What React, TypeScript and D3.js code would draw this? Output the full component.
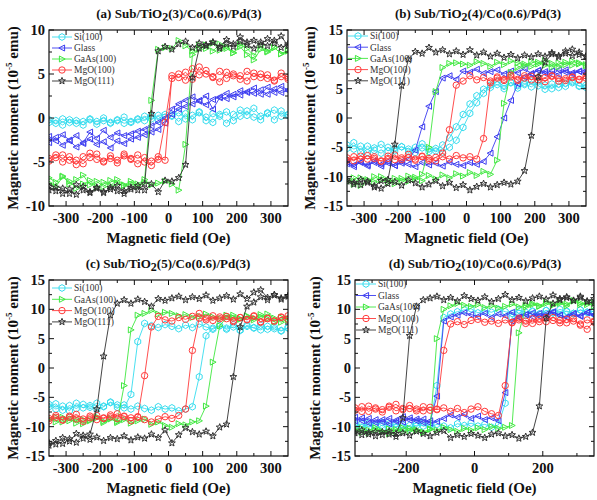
import React from 'react';
import * as d3 from 'd3';

// Applied field sweep (Oe), shared by every loop
const FIELD = [-350,-330,-310,-290,-270,-250,-230,-210,-190,-170,-150,-130,-110,-90,-70,-50,-30,-10,10,30,50,70,90,110,130,150,170,190,210,230,250,270,290,310,330,350];

// (a) TiO2(3): moment (1e-5 emu); "Asc" = field sweep up, "Desc" = field sweep down
const aSiAsc = [-0.5,-0.3,-0.8,-0.2,-0.6,-0.4,-0.1,-0.7,-0.3,-0.5,-0.2,-0.6,-0.4,-0.1,-0.3,0.2,-0.2,0.1,0.3,-0.4,0.5,-0.2,0.6,0.1,-0.5,0.4,0.7,-0.3,0.2,0.8,0.1,-0.2,0.6,0.9,0.2,0.4];
const aSiDesc = [-0.2,-0.6,-0.1,-0.5,-0.3,-0.8,-0.2,-0.4,0.0,-0.6,-0.3,0.1,-0.5,-0.2,0.2,-0.1,0.3,0.4,0.2,0.6,-0.1,0.3,0.7,-0.3,0.5,0.2,-0.6,0.4,0.9,0.3,1.1,0.2,0.5,-0.2,0.8,0.3];
const aGlassAsc = [-2.8,-2.2,-3.1,-2.6,-3.3,-2.9,-2.4,-3.0,-2.7,-3.4,-2.6,-2.9,-2.4,-2.2,-1.9,-1.6,-1.3,-0.6,0.4,1.0,1.3,1.6,1.9,1.5,2.1,2.4,2.2,2.7,2.6,3.0,2.8,3.2,2.7,3.3,2.9,3.1];
const aGlassDesc = [-2.1,-2.6,-1.9,-2.5,-2.0,-2.8,-1.6,-2.3,-1.4,-2.2,-1.7,-2.0,-1.8,-1.5,-1.3,-0.9,-0.5,0.0,1.0,1.6,2.0,2.4,2.0,2.5,1.0,2.3,2.8,2.4,3.1,2.9,3.4,2.7,3.5,2.9,3.6,3.2];
const aGaAsAsc = [-6.8,-7.3,-6.6,-7.5,-7.0,-6.5,-7.6,-7.2,-7.8,-7.1,-7.4,-7.7,-7.5,-7.8,-7.3,-7.6,-7.4,-7.2,-7.5,-8.2,-3.0,7.2,7.8,8.3,7.6,8.4,7.9,7.4,8.1,7.2,6.6,7.8,7.5,8.0,7.3,7.6];
const aGaAsDesc = [-7.4,-7.8,-6.7,-7.2,-8.0,-7.5,-7.1,-7.9,-7.3,-7.7,-7.0,-7.6,-7.2,-7.5,-7.0,2.0,7.8,8.0,7.9,8.8,8.2,7.6,8.3,7.9,8.5,7.7,8.1,7.4,8.4,7.9,7.1,8.2,7.6,8.0,7.3,7.7];
const aMgO100Asc = [-4.6,-4.2,-5.0,-4.4,-4.8,-5.2,-4.5,-4.1,-4.9,-4.6,-5.1,-4.3,-4.7,-5.2,-4.5,-4.9,-4.4,-4.8,4.8,4.6,5.2,4.4,5.8,5.0,4.7,5.3,4.5,5.0,4.8,4.2,5.1,4.6,4.9,4.3,4.7,4.4];
const aMgO100Desc = [-4.9,-4.5,-4.2,-4.8,-5.3,-4.4,-4.0,-4.7,-5.0,-4.3,-4.8,-4.1,-4.6,-4.2,-5.0,-5.4,-4.7,-0.5,4.5,5.0,4.3,5.6,4.9,5.4,4.6,4.1,5.2,4.8,4.4,5.3,4.7,5.0,4.5,4.2,5.1,4.6];
const aMgO111Asc = [-8.2,-7.9,-8.6,-8.1,-8.7,-7.8,-8.4,-8.0,-8.5,-7.9,-8.3,-8.6,-8.1,-7.7,-8.2,-7.5,-8.4,-7.1,-7.2,-6.8,-5.3,4.6,7.9,8.3,8.6,8.1,8.9,8.4,9.2,8.6,8.8,8.3,9.0,8.5,9.3,8.2];
const aMgO111Desc = [-7.8,-8.3,-8.0,-8.6,-7.6,-8.2,-8.5,-7.9,-8.4,-8.1,-7.7,-8.3,-7.9,-8.2,-7.5,0.5,7.6,8.1,7.8,8.4,8.7,8.0,8.5,8.2,8.6,7.9,8.4,8.1,8.7,8.3,7.9,8.6,8.2,8.8,8.0,8.4];

// (b) TiO2(4)
const bSiAsc = [-5.2,-4.2,-5.8,-4.8,-5.5,-6.0,-5.0,-5.6,-4.9,-5.3,-5.9,-5.1,-5.7,-5.2,-5.8,-5.0,-3.8,-1.6,0.8,2.6,4.2,5.2,5.7,5.0,6.1,5.5,5.9,5.3,6.2,5.6,5.0,5.8,5.4,6.0,5.5,5.2];
const bSiDesc = [-4.6,-5.3,-4.8,-5.9,-5.1,-4.5,-5.6,-5.2,-4.9,-5.7,-5.0,-4.4,-5.3,-5.6,-4.6,-3.4,-1.5,0.6,2.4,3.8,4.9,5.6,6.2,5.4,6.0,5.1,5.7,6.3,5.5,4.9,5.8,5.2,5.9,6.2,5.4,5.6];
const bGlassAsc = [-7.8,-8.3,-7.5,-8.0,-7.6,-8.2,-7.7,-8.1,-7.4,-7.9,-8.3,-7.6,-8.0,-7.7,-8.2,-7.5,-7.9,-8.1,-7.6,-7.9,-7.4,-6.0,-3.2,0.0,3.0,5.8,7.0,7.5,8.1,7.6,8.0,7.4,8.2,7.7,7.9,8.1];
const bGlassDesc = [-7.5,-8.0,-7.6,-8.2,-7.3,-7.9,-7.4,-8.1,-7.7,-7.0,-5.5,-1.5,2.0,4.5,6.8,7.2,6.6,8.0,7.8,8.3,7.6,7.9,8.2,7.5,8.0,7.7,8.4,7.6,8.1,7.9,7.4,8.2,7.8,7.5,8.0,7.6];
const bGaAsAsc = [-11.0,-10.2,-11.5,-10.5,-10.9,-10.0,-10.6,-11.2,-10.3,-10.8,-10.1,-10.7,-9.8,-10.4,-9.7,-10.2,-9.5,-9.9,-9.3,-9.8,-9.1,-9.6,-7.2,2.5,7.8,8.6,9.2,8.8,9.5,9.0,8.7,9.4,9.1,9.7,9.2,8.9];
const bGaAsDesc = [-10.5,-11.3,-10.2,-10.8,-10.0,-10.6,-11.0,-10.3,-10.7,-9.9,-10.4,-9.6,-5.0,4.5,8.6,9.3,9.4,9.2,9.0,9.6,9.3,8.8,9.5,9.1,9.7,9.4,8.9,9.6,9.2,9.8,9.3,8.7,9.5,9.0,9.4,9.1];
const bMgO100Asc = [-6.8,-7.3,-6.5,-7.0,-6.6,-7.4,-6.9,-6.3,-7.1,-6.7,-7.2,-6.5,-6.9,-7.3,-6.6,-7.0,-6.4,-6.8,-6.6,-7.0,-3.5,6.0,6.8,6.4,7.0,6.6,7.2,6.5,6.9,6.2,7.1,6.7,6.4,6.9,6.6,7.2];
const bMgO100Desc = [-7.2,-6.6,-7.0,-6.4,-6.9,-7.3,-6.5,-7.1,-6.8,-6.2,-7.0,-6.6,-7.2,-6.7,-6.0,-2.0,5.6,6.3,7.2,6.5,6.9,6.3,7.0,6.6,7.3,6.4,6.8,7.1,6.5,6.9,7.2,6.3,6.7,7.0,6.5,6.8];
const bMgO111Asc = [-10.5,-11.0,-11.4,-10.8,-11.8,-12.0,-11.2,-10.9,-11.5,-10.6,-11.1,-11.8,-11.3,-10.7,-11.6,-11.0,-11.9,-11.4,-12.3,-11.7,-11.2,-11.8,-11.4,-11.0,-11.3,-10.8,-9.0,-3.0,7.0,9.5,10.9,10.4,11.0,10.6,11.2,10.5];
const bMgO111Desc = [-10.8,-11.3,-10.5,-11.0,-11.6,-10.7,-10.5,-4.5,5.5,10.0,11.3,11.0,12.0,11.2,11.6,10.9,11.4,10.8,11.6,10.7,11.2,10.5,11.0,10.3,10.8,10.2,10.7,10.4,10.9,10.5,11.1,10.6,11.4,11.7,10.8,10.5];

// (c) TiO2(5)
const cSiAsc = [-6.2,-7.0,-6.5,-7.3,-6.0,-6.8,-6.4,-7.1,-6.6,-5.9,-6.7,-6.3,-7.0,-6.5,-6.9,-7.2,-6.6,-7.0,-6.8,-7.3,-7.0,-6.6,-1.5,5.5,6.8,7.2,6.6,7.0,6.4,7.3,6.8,6.5,7.1,6.7,6.3,6.9];
const cSiDesc = [-6.6,-6.1,-7.2,-6.4,-6.9,-6.2,-6.7,-6.0,-6.5,-5.8,-6.3,-6.8,-4.5,4.5,7.6,7.2,6.9,7.4,7.1,6.7,7.3,6.9,7.5,7.0,6.6,7.2,6.8,7.4,6.5,7.1,6.9,7.3,6.6,7.0,6.4,6.8];
const cGaAsAsc = [-8.6,-9.2,-8.4,-9.0,-8.7,-9.5,-8.9,-8.3,-9.1,-8.6,-9.3,-8.8,-9.4,-9.0,-8.7,-9.6,-9.2,-9.8,-10.1,-9.5,-9.7,-9.2,-9.0,-6.5,1.0,7.2,8.6,9.0,8.4,8.9,8.2,8.7,9.2,8.5,7.8,8.4];
const cGaAsDesc = [-8.9,-8.4,-9.2,-8.6,-9.4,-8.8,-9.0,-8.5,-9.3,-8.7,-9.1,-3.0,6.5,9.0,9.3,9.8,9.2,9.5,9.3,8.9,9.1,8.6,8.8,9.2,8.7,8.4,9.0,8.6,8.3,8.8,8.5,9.1,8.4,7.9,8.6,8.2];
const cMgO100Asc = [-8.6,-8.1,-8.9,-8.4,-7.9,-8.7,-8.2,-8.8,-8.5,-8.0,-8.6,-8.3,-9.0,-8.4,-8.8,-9.2,-8.7,-8.3,-8.6,-8.1,-7.0,3.0,8.5,8.2,8.9,8.4,8.8,8.1,8.6,8.3,8.9,7.9,8.5,8.0,8.7,8.3];
const cMgO100Desc = [-9.0,-8.4,-8.8,-8.2,-8.7,-9.1,-8.5,-8.1,-8.6,-8.3,-7.8,-8.2,-8.5,-8.3,-1.3,7.0,8.8,8.2,8.0,8.6,8.3,8.8,9.3,8.5,8.1,8.7,8.4,7.9,8.6,8.2,8.8,7.8,8.4,8.0,8.6,8.9];
const cMgO111Asc = [-13.2,-12.4,-12.9,-12.1,-12.7,-11.5,-12.2,-11.8,-12.4,-11.9,-12.1,-11.6,-12.3,-11.8,-12.0,-11.3,-11.9,-10.6,-12.8,-11.4,-10.2,-10.9,-11.3,-10.8,-11.6,-10.1,-9.6,-1.5,7.0,10.5,11.2,12.1,11.6,12.4,11.9,12.3];
const cMgO111Desc = [-12.8,-13.0,-11.9,-12.5,-11.2,-12.0,-11.3,-7.0,2.0,9.0,11.0,11.6,11.0,11.7,11.3,10.5,11.8,11.5,11.9,12.2,11.6,12.1,11.8,12.4,11.5,11.9,12.3,11.7,12.6,11.8,12.9,13.3,12.0,12.5,11.7,12.2];

// (d) TiO2(10)
const dSiAsc = [-9.6,-10.2,-9.4,-9.9,-10.3,-9.5,-10.0,-9.7,-10.4,-9.8,-9.3,-10.1,-9.6,-9.9,-10.2,-9.5,-9.8,-9.4,-9.9,-9.6,-10.1,-9.7,-6.0,8.6,9.3,9.0,9.6,9.2,9.8,9.4,9.1,9.7,9.3,9.9,9.5,9.2];
const dSiDesc = [-9.9,-9.5,-10.1,-9.7,-9.3,-10.0,-9.6,-10.2,-9.8,-9.4,-9.9,-9.7,-3.0,8.6,9.2,9.6,9.9,10.1,9.4,9.8,9.5,10.0,9.6,9.3,9.9,9.5,9.7,9.2,9.8,9.4,10.0,9.6,9.3,9.9,9.5,9.7];
const dGlassAsc = [-8.4,-9.0,-8.6,-9.3,-8.8,-9.5,-8.9,-9.2,-8.5,-9.0,-8.7,-9.4,-9.1,-8.6,-8.0,-8.4,-7.9,-8.6,-8.2,-8.8,-8.5,-9.0,-4.2,8.0,8.6,9.1,8.7,9.3,8.9,9.5,9.0,8.6,9.2,8.8,9.4,9.0];
const dGlassDesc = [-9.0,-8.5,-9.4,-8.8,-9.2,-8.6,-9.1,-8.3,-8.9,-8.7,-9.3,-9.0,-4.8,8.0,8.7,9.0,9.4,9.1,8.8,9.3,8.6,9.2,8.9,9.5,8.7,9.1,9.4,8.8,9.2,9.6,9.0,8.7,9.3,8.9,9.5,9.1];
const dGaAsAsc = [-10.4,-11.0,-10.6,-10.2,-10.8,-11.2,-10.5,-10.9,-10.3,-10.7,-11.0,-10.4,-10.6,-10.1,-10.5,-10.8,-10.3,-10.6,-10.2,-10.5,-10.0,-10.3,-10.1,-9.8,6.0,10.4,10.8,10.5,11.0,10.7,11.2,10.9,11.4,10.8,11.1,10.6];
const dGaAsDesc = [-10.9,-10.3,-11.1,-10.6,-10.9,-10.4,-10.8,-10.2,-10.7,-10.5,-10.9,-10.5,5.0,10.0,10.6,11.0,10.7,10.5,10.8,10.3,10.6,10.2,10.5,10.9,10.4,10.7,11.0,10.6,11.3,10.8,11.0,10.6,11.5,11.1,10.8,11.2];
const dMgO100Asc = [-7.2,-6.6,-7.4,-6.8,-7.1,-6.5,-7.3,-6.9,-6.4,-7.0,-7.3,-6.7,-7.1,-6.8,-7.4,-6.9,-7.6,-7.0,-6.6,-7.4,-7.8,-8.1,-3.0,7.8,8.2,7.6,8.4,7.9,8.6,8.1,7.7,8.3,8.0,7.5,8.2,7.8];
const dMgO100Desc = [-6.8,-7.4,-6.5,-7.0,-7.5,-6.7,-6.2,-7.1,-6.9,-7.3,-6.6,-7.2,-7.0,3.0,7.5,7.9,7.4,8.1,8.3,7.8,8.0,7.6,8.2,7.7,8.5,8.0,7.6,8.3,7.9,8.6,8.1,7.7,8.4,7.3,6.6,8.0];
const dMgO111Asc = [-10.8,-11.4,-11.0,-11.6,-10.9,-11.3,-11.7,-11.1,-11.5,-10.8,-11.2,-11.6,-11.0,-10.7,-11.9,-11.4,-11.7,-11.2,-11.5,-11.9,-11.3,-11.1,-11.6,-11.4,-12.0,-11.7,-11.0,-6.5,8.5,11.0,11.6,12.1,11.5,12.0,11.4,11.8];
const dMgO111Desc = [-11.1,-10.6,-11.3,-10.9,-11.4,-10.8,-11.2,-8.5,5.5,10.5,11.6,11.9,12.2,11.6,12.0,11.4,12.3,11.8,11.5,12.1,11.3,11.8,12.5,11.6,12.0,11.4,11.9,12.2,11.7,12.4,11.8,12.0,11.5,12.2,11.3,11.0];

// Axis ticks
const X_TICKS = [-300, -200, -100, 0, 100, 200, 300];
const X_MINOR = [-250, -150, -50, 50, 150, 250];
const X_TICKS_D = [-200, 0, 200];
const X_MINOR_D = [-300, -100, 100, 300];
const Y_TICKS_10 = [-10, -5, 0, 5, 10];
const Y_TICKS_15 = [-15, -10, -5, 0, 5, 10, 15];

type Shape = 'hex' | 'left' | 'right' | 'circle' | 'star';

const SUBSTRATES: Record<string, { label: string; color: string; shape: Shape }> = {
  si: { label: 'Si(100)', color: '#36dcee', shape: 'hex' },
  glass: { label: 'Glass', color: '#3c3cf0', shape: 'left' },
  gaas: { label: 'GaAs(100)', color: '#40e840', shape: 'right' },
  mgo100: { label: 'MgO(100)', color: '#ff3a3a', shape: 'circle' },
  mgo111: { label: 'MgO(111)', color: '#303030', shape: 'star' },
};

const FONT = "'Liberation Serif', 'Times New Roman', serif";

function polygon(pts: number[][]): string {
  return 'M' + pts.map((p) => `${p[0].toFixed(2)},${p[1].toFixed(2)}`).join('L') + 'Z';
}

function markerPath(shape: Shape): string {
  switch (shape) {
    case 'circle':
      return d3.symbol(d3.symbolCircle, Math.PI * 3.2 * 3.2)() as string;
    case 'hex':
      return polygon(d3.range(6).map((i) => {
        const a = Math.PI / 6 + (i * Math.PI) / 3;
        return [3.4 * Math.cos(a), 3.4 * Math.sin(a)];
      }));
    case 'left':
      return polygon([[-3.2, 0], [2.6, -3], [2.6, 3]]);
    case 'right':
      return polygon([[3.2, 0], [-2.6, -3], [-2.6, 3]]);
    case 'star':
      return polygon(d3.range(10).map((i) => {
        const a = -Math.PI / 2 + (i * Math.PI) / 5;
        const r = i % 2 === 0 ? 3.6 : 1.5;
        return [r * Math.cos(a), r * Math.sin(a)];
      }));
  }
}

interface PanelDef {
  key: string;
  tag: string;
  layer: string;
  yMax: number;
  yTicks: number[];
  xTicks: number[];
  xMinor: number[];
  left: number;
  right: number;
  top: number;
  bottom: number;
  titleX: number;
  yLabelX: number;
  legendX: number;
  legendY: number;
  legendStep: number;
  series: [string, number[], number[]][];
}

const PANELS: PanelDef[] = [
  {
    key: 'a', tag: '(a)', layer: '3', yMax: 10, yTicks: Y_TICKS_10, xTicks: X_TICKS, xMinor: X_MINOR,
    left: 49, right: 288, top: 30, bottom: 206, titleX: 179, yLabelX: 13, legendX: 52, legendY: 37, legendStep: 11,
    series: [
      ['si', aSiAsc, aSiDesc], ['glass', aGlassAsc, aGlassDesc], ['gaas', aGaAsAsc, aGaAsDesc],
      ['mgo100', aMgO100Asc, aMgO100Desc], ['mgo111', aMgO111Asc, aMgO111Desc],
    ],
  },
  {
    key: 'b', tag: '(b)', layer: '4', yMax: 15, yTicks: Y_TICKS_15, xTicks: X_TICKS, xMinor: X_MINOR,
    left: 347, right: 586, top: 30, bottom: 206, titleX: 478, yLabelX: 310, legendX: 348, legendY: 36, legendStep: 11.2,
    series: [
      ['si', bSiAsc, bSiDesc], ['glass', bGlassAsc, bGlassDesc], ['gaas', bGaAsAsc, bGaAsDesc],
      ['mgo100', bMgO100Asc, bMgO100Desc], ['mgo111', bMgO111Asc, bMgO111Desc],
    ],
  },
  {
    key: 'c', tag: '(c)', layer: '5', yMax: 15, yTicks: Y_TICKS_15, xTicks: X_TICKS, xMinor: X_MINOR,
    left: 49, right: 288, top: 280, bottom: 456, titleX: 168, yLabelX: 13, legendX: 52, legendY: 288, legendStep: 11.3,
    series: [
      ['si', cSiAsc, cSiDesc], ['gaas', cGaAsAsc, cGaAsDesc],
      ['mgo100', cMgO100Asc, cMgO100Desc], ['mgo111', cMgO111Asc, cMgO111Desc],
    ],
  },
  {
    key: 'd', tag: '(d)', layer: '10', yMax: 15, yTicks: Y_TICKS_15, xTicks: X_TICKS_D, xMinor: X_MINOR_D,
    left: 355, right: 594, top: 280, bottom: 456, titleX: 475, yLabelX: 315, legendX: 356, legendY: 284, legendStep: 11.5,
    series: [
      ['si', dSiAsc, dSiDesc], ['glass', dGlassAsc, dGlassDesc], ['gaas', dGaAsAsc, dGaAsDesc],
      ['mgo100', dMgO100Asc, dMgO100Desc], ['mgo111', dMgO111Asc, dMgO111Desc],
    ],
  },
];

function Panel({ p }: { p: PanelDef }) {
  const x = d3.scaleLinear().domain([-350, 350]).range([p.left, p.right]);
  const y = d3.scaleLinear().domain([-p.yMax, p.yMax]).range([p.bottom, p.top]);
  const line = d3.line<[number, number]>().x((d) => x(d[0])).y((d) => y(d[1]));
  const clipId = `clip-${p.key}`;
  const yMinor = p.yTicks.slice(0, -1).map((t, i) => (t + p.yTicks[i + 1]) / 2);
  const midY = (p.top + p.bottom) / 2;
  const midX = (p.left + p.right) / 2;

  return (
    <g>
      <defs>
        <clipPath id={clipId}>
          <rect x={p.left} y={p.top} width={p.right - p.left} height={p.bottom - p.top} />
        </clipPath>
      </defs>

      {/* loops */}
      <g clipPath={`url(#${clipId})`}>
        {p.series.map(([id, asc, desc]) => {
          const s = SUBSTRATES[id];
          const up: [number, number][] = FIELD.map((f, i) => [f, asc[i]]);
          const down: [number, number][] = FIELD.map((f, i) => [f, desc[i]] as [number, number]).reverse();
          const pts = up.concat(down);
          const mk = markerPath(s.shape);
          return (
            <g key={id}>
              <path d={line(pts) || ''} fill="none" stroke={s.color} strokeWidth={0.9} />
              {pts.map((d, i) => (
                <path key={i} d={mk} transform={`translate(${x(d[0])},${y(d[1])})`} fill="none" stroke={s.color} strokeWidth={1} />
              ))}
            </g>
          );
        })}
      </g>

      {/* frame and ticks */}
      <rect x={p.left} y={p.top} width={p.right - p.left} height={p.bottom - p.top} fill="none" stroke="#111" strokeWidth={1.2} />
      {p.xTicks.map((t) => (
        <g key={`xt${t}`}>
          <line x1={x(t)} x2={x(t)} y1={p.bottom} y2={p.bottom - 5} stroke="#111" />
          <line x1={x(t)} x2={x(t)} y1={p.top} y2={p.top + 5} stroke="#111" />
          <text x={x(t)} y={p.bottom + 17} textAnchor="middle" fontFamily={FONT} fontWeight="bold" fontSize={14.5} fill="#111">
            {t < 0 ? `-${Math.abs(t)}` : t}
          </text>
        </g>
      ))}
      {p.xMinor.map((t) => (
        <g key={`xm${t}`}>
          <line x1={x(t)} x2={x(t)} y1={p.bottom} y2={p.bottom - 3} stroke="#111" />
          <line x1={x(t)} x2={x(t)} y1={p.top} y2={p.top + 3} stroke="#111" />
        </g>
      ))}
      {p.yTicks.map((t) => (
        <g key={`yt${t}`}>
          <line x1={p.left} x2={p.left + 5} y1={y(t)} y2={y(t)} stroke="#111" />
          <line x1={p.right} x2={p.right - 5} y1={y(t)} y2={y(t)} stroke="#111" />
          <text x={p.left - 4} y={y(t)} dy="0.35em" textAnchor="end" fontFamily={FONT} fontWeight="bold" fontSize={14.5} fill="#111">
            {t < 0 ? `-${Math.abs(t)}` : t}
          </text>
        </g>
      ))}
      {yMinor.map((t) => (
        <g key={`ym${t}`}>
          <line x1={p.left} x2={p.left + 3} y1={y(t)} y2={y(t)} stroke="#111" />
          <line x1={p.right} x2={p.right - 3} y1={y(t)} y2={y(t)} stroke="#111" />
        </g>
      ))}

      {/* titles */}
      <text x={p.titleX} y={p.top - 12} textAnchor="middle" fontFamily={FONT} fontWeight="bold" fontSize={13} fill="#111">
        {p.tag} Sub/TiO<tspan fontSize={12} dy={3}>2</tspan>
        <tspan dy={-3}>({p.layer})/Co(0.6)/Pd(3)</tspan>
      </text>
      <text x={midX} y={p.bottom + 37} textAnchor="middle" fontFamily={FONT} fontWeight="bold" fontSize={15} fill="#111">
        Magnetic field (Oe)
      </text>
      <text transform={`translate(${p.yLabelX},${midY}) rotate(-90)`} dy="0.35em" textAnchor="middle" fontFamily={FONT} fontWeight="bold" fontSize={15} fill="#111">
        Magnetic moment (10<tspan fontSize={9} dy={-6}>-5</tspan>
        <tspan dy={6}> emu)</tspan>
      </text>

      {/* legend */}
      {p.series.map(([id], i) => {
        const s = SUBSTRATES[id];
        const ly = p.legendY + i * p.legendStep;
        return (
          <g key={`lg${id}`}>
            <line x1={p.legendX} x2={p.legendX + 20} y1={ly} y2={ly} stroke={s.color} strokeWidth={0.9} />
            <path d={markerPath(s.shape)} transform={`translate(${p.legendX + 10},${ly})`} fill="none" stroke={s.color} strokeWidth={1} />
            <text x={p.legendX + 22} y={ly} dy="0.35em" fontFamily={FONT} fontSize={9.5} fill="#333">
              {s.label}
            </text>
          </g>
        );
      })}
    </g>
  );
}

export default function App() {
  return (
    <svg width={597} height={500} style={{ position: 'absolute', left: 0, top: 0, background: '#fff' }}>
      <rect width={597} height={500} fill="#fff" />
      {PANELS.map((p) => (
        <Panel key={p.key} p={p} />
      ))}
    </svg>
  );
}
